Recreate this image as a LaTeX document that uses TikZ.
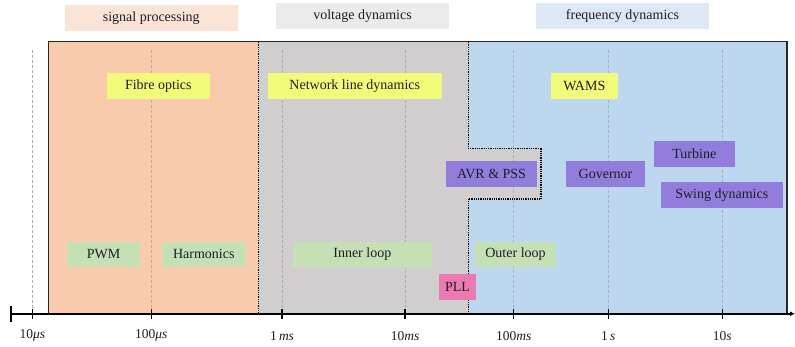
\documentclass[tikz,border=0pt]{standalone}
\usepackage{fontspec}
\setmainfont{Liberation Serif}
\usetikzlibrary{arrows.meta}

\definecolor{orangezone}{RGB}{247,203,172}
\definecolor{grayzone}{RGB}{208,206,206}
\definecolor{bluezone}{RGB}{189,215,238}
\definecolor{sighead}{RGB}{250,228,214}
\definecolor{volthead}{RGB}{235,235,235}
\definecolor{freqhead}{RGB}{221,232,245}
\definecolor{tagyellow}{RGB}{242,250,122}
\definecolor{tagpurple}{RGB}{147,125,220}
\definecolor{taggreen}{RGB}{197,224,180}
\definecolor{tagpink}{RGB}{236,122,178}
\definecolor{gridgray}{RGB}{175,175,175}
\definecolor{inktext}{RGB}{30,30,40}

\tikzset{
  tag/.style={rectangle, inner sep=0pt, text=inktext,
    font=\fontsize{14}{16}\selectfont},
  gridline/.style={gridgray, line width=1pt, dash pattern=on 3pt off 2pt},
  zoneedge/.style={black!85, line width=1.2pt},
  dotedge/.style={black, line width=1.6pt, dash pattern=on 1pt off 0.8pt},
  axisline/.style={black, line width=1.6pt},
  ticklabel/.style={inner sep=0pt, text=inktext,
    font=\fontsize{13.5}{15}\selectfont},
}

\begin{document}
\begin{tikzpicture}[x=1pt, y=-1pt]
\useasboundingbox (0,0) rectangle (795,346);

% zone fills
\fill[orangezone] (48.3,41.7) rectangle (258.3,313);
\fill[bluezone] (468.3,41.7) rectangle (787,313);
\fill[grayzone] (258.3,41.7) -- (468.3,41.7) -- (468.3,148.3) -- (540.7,148.3)
  -- (540.7,199) -- (468.3,199) -- (468.3,313) -- (258.3,313) -- cycle;

% decade grid
\foreach \gx in {32.3,151.3,282,405,513.7,608.3,722.3}
  \draw[gridline] (\gx,50) -- (\gx,313);

% zone borders
\draw[zoneedge] (48.3,313) -- (48.3,41.7) -- (787,41.7) -- (787,313);
\draw[dotedge] (258.3,41.7) -- (258.3,313);
\draw[dotedge] (468.3,41.7) -- (468.3,148.3) -- (540.7,148.3)
  -- (540.7,199) -- (468.3,199) -- (468.3,313);

% zone headers
\node[tag, fill=sighead, minimum width=172.7pt, minimum height=25.7pt] (sighdr) at (151.3,17.8) {signal processing};
\node[tag, fill=volthead, minimum width=173pt, minimum height=25.4pt] (volthdr) at (362.5,16) {voltage dynamics};
\node[tag, fill=freqhead, minimum width=173pt, minimum height=25.4pt] (freqhdr) at (622.5,16) {frequency dynamics};

% communication / network
\node[tag, fill=tagyellow, minimum width=102.7pt, minimum height=26pt] (fibre) at (158.3,86) {Fibre optics};
\node[tag, fill=tagyellow, minimum width=173.7pt, minimum height=26pt] (netline) at (354.8,86) {Network line dynamics};
\node[tag, fill=tagyellow, minimum width=66.7pt, minimum height=26pt] (wams) at (584.3,86) {WAMS};

% machine dynamics
\node[tag, fill=tagpurple, minimum width=91pt, minimum height=25.7pt] (avr) at (491.5,173.8) {AVR \& PSS};
\node[tag, fill=tagpurple, minimum width=79pt, minimum height=25.7pt] (governor) at (605.5,173.8) {Governor};
\node[tag, fill=tagpurple, minimum width=80.7pt, minimum height=25.7pt] (turbine) at (694.3,153.8) {Turbine};
\node[tag, fill=tagpurple, minimum width=121.7pt, minimum height=25.7pt] (swing) at (721.8,194.8) {Swing dynamics};

% converter control
\node[tag, fill=taggreen, minimum width=72.3pt, minimum height=25pt] (pwm) at (103.5,254.2) {PWM};
\node[tag, fill=taggreen, minimum width=83.7pt, minimum height=25pt] (harmonics) at (203.8,254.2) {Harmonics};
\node[tag, fill=taggreen, minimum width=138.7pt, minimum height=25pt] (inner) at (362.3,254.2) {Inner loop};
\node[tag, fill=taggreen, minimum width=80.3pt, minimum height=25pt] (outer) at (515.5,254.2) {Outer loop};
\node[tag, fill=tagpink, minimum width=37pt, minimum height=25.7pt] (pll) at (457.5,286.8) {PLL};

% time axis
\coordinate (axstart) at (10,313.7);
\coordinate (axend) at (795,313.7);
\draw[axisline, -{Latex[length=5pt,width=5pt]}] (axstart) -- (axend);
\draw[black, line width=1.2pt] (11,306) -- (11,322);
\foreach \gx in {32.3,151.3,282,405,513.7,608.3,722.3}
  \draw[black, line width=1.2pt] (\gx,309) -- (\gx,318.5);

\node[ticklabel] (t1) at (32.3,335.7) {10\textit{μs}};
\node[ticklabel] (t2) at (151.3,335.7) {100\textit{μs}};
\node[ticklabel] (t3) at (282,335.7) {1\,\textit{ms}};
\node[ticklabel] (t4) at (405,335.7) {10\textit{ms}};
\node[ticklabel] (t5) at (513.7,335.7) {100\textit{ms}};
\node[ticklabel] (t6) at (608.3,335.7) {1\,\textit{s}};
\node[ticklabel] (t7) at (722.3,335.7) {10\textit{s}};
\end{tikzpicture}
\end{document}
